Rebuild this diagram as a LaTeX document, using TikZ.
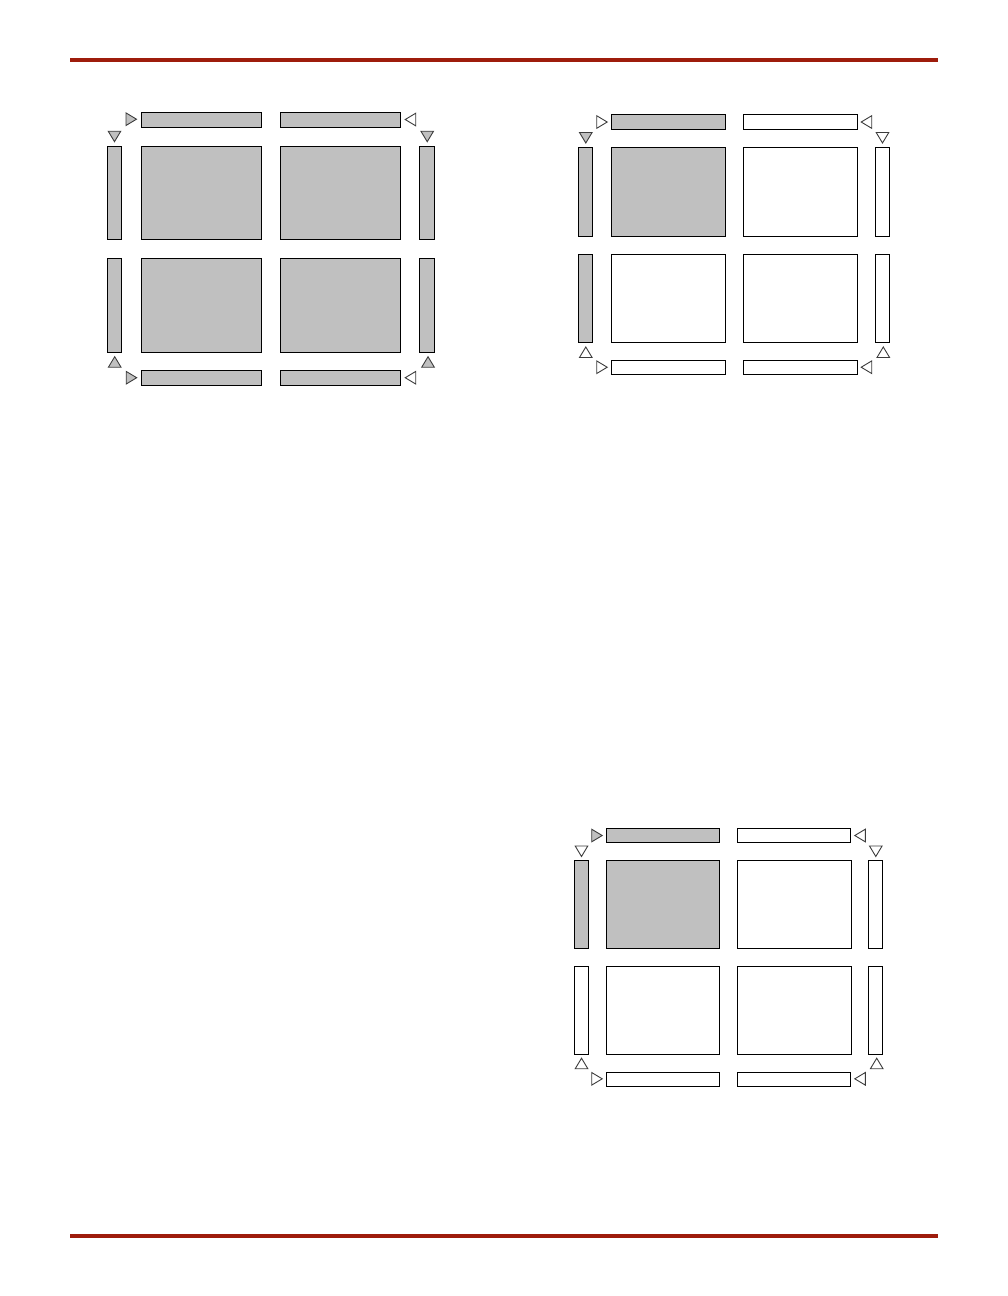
\documentclass[tikz,border=0pt]{standalone}
\definecolor{rulered}{RGB}{158,28,12}
\definecolor{blkgray}{RGB}{192,192,192}
\definecolor{triedge}{RGB}{60,60,60}
\tikzset{
  bx/.style={draw=black, line width=1pt, inner sep=0pt, outer sep=0pt},
  gr/.style={fill=blkgray},
  wh/.style={fill=white},
  trig/.style={draw=triedge, line width=0.9pt, fill=blkgray, line join=miter},
  triw/.style={draw=triedge, line width=0.9pt, fill=white, line join=miter},
  redrule/.style={draw=rulered, line width=3.8pt}
}
% box: name, x1, y1, x2, y2, style
\newcommand\bx[6]{\node[bx,#6,minimum width={#4-#2}, minimum height={#5-#3}] (#1) at ({(#2+#4)/2},{(#3+#5)/2}) {};}
% triangles: center x, center y, style
\newcommand\trR[3]{\draw[#3] ({#1-5},{#2-6.3}) -- ({#1+5.5},{#2}) -- ({#1-5},{#2+6.3}) -- cycle;}
\newcommand\trL[3]{\draw[#3] ({#1+5},{#2-6.3}) -- ({#1-5.5},{#2}) -- ({#1+5},{#2+6.3}) -- cycle;}
\newcommand\trD[3]{\draw[#3] ({#1-6.3},{#2-5}) -- ({#1},{#2+5.5}) -- ({#1+6.3},{#2-5}) -- cycle;}
\newcommand\trU[3]{\draw[#3] ({#1-6.3},{#2+5}) -- ({#1},{#2-5.5}) -- ({#1+6.3},{#2+5}) -- cycle;}
\begin{document}
\begin{tikzpicture}[x=1pt,y=-1pt]
\useasboundingbox (0,0) rectangle (1008,1296);
% rules
\coordinate (r1a) at (70,60.2); \coordinate (r1b) at (938,60.2);
\coordinate (r2a) at (70,1236); \coordinate (r2b) at (938,1236);
\draw[redrule] (r1a) -- (r1b);
\draw[redrule] (r2a) -- (r2b);

% ---------- diagram 1 ----------
\bx{aT1}{141}{112.3}{261.7}{127.3}{gr}
\bx{aT2}{280.3}{112.3}{400.3}{127.3}{gr}
\bx{aB1}{141}{370.3}{261.7}{385.3}{gr}
\bx{aB2}{280.3}{370.3}{400.3}{385.3}{gr}
\bx{aM11}{141}{146.3}{261.7}{239.3}{gr}
\bx{aM12}{280.3}{146.3}{400.3}{239.3}{gr}
\bx{aM21}{141}{258.3}{261.7}{352.3}{gr}
\bx{aM22}{280.3}{258.3}{400.3}{352.3}{gr}
\bx{aL1}{107.3}{146.3}{121.7}{239.3}{gr}
\bx{aL2}{107.3}{258.3}{121.7}{352.3}{gr}
\bx{aR1}{419.3}{146.3}{434.7}{239.3}{gr}
\bx{aR2}{419.3}{258.3}{434.7}{352.3}{gr}
\trR{131}{119.2}{trig}
\trD{114.5}{136.2}{trig}
\trL{410.7}{119.5}{triw}
\trD{427.2}{136.2}{trig}
\trU{114.7}{362.2}{trig}
\trR{131.2}{377.7}{trig}
\trU{428}{362.2}{trig}
\trL{410.7}{377.7}{triw}

% ---------- diagram 2 ----------
\bx{bT1}{611}{114.3}{725.7}{129.3}{gr}
\bx{bT2}{743.3}{114.3}{857.7}{129.3}{wh}
\bx{bB1}{611}{360}{725.7}{374.3}{wh}
\bx{bB2}{743.3}{360}{857.7}{374.3}{wh}
\bx{bM11}{611}{147.3}{725.7}{236.3}{gr}
\bx{bM12}{743.3}{147.3}{857.7}{236.3}{wh}
\bx{bM21}{611}{254.3}{725.7}{342.3}{wh}
\bx{bM22}{743.3}{254.3}{857.7}{342.3}{wh}
\bx{bL1}{578.3}{147.3}{592.3}{236.3}{gr}
\bx{bL2}{578.3}{254.3}{592.3}{342.3}{gr}
\bx{bR1}{875.3}{147.3}{889.3}{236.3}{wh}
\bx{bR2}{875.3}{254.3}{889.3}{342.3}{wh}
\trR{601.7}{122}{triw}
\trD{585.8}{137.5}{trig}
\trL{866.7}{122}{triw}
\trD{882.5}{137.5}{triw}
\trU{585.8}{352.5}{triw}
\trR{601.7}{367.2}{triw}
\trU{883.3}{352.5}{triw}
\trL{866.7}{367.2}{triw}

% ---------- diagram 3 ----------
\bx{cT1}{606}{828.3}{719.3}{842.3}{gr}
\bx{cT2}{737.3}{828.3}{850.3}{842.3}{wh}
\bx{cB1}{606}{1072.3}{719.3}{1086.3}{wh}
\bx{cB2}{737.3}{1072.3}{850.3}{1086.3}{wh}
\bx{cM11}{606}{860.3}{719.3}{948.3}{gr}
\bx{cM12}{737.3}{860.3}{851}{948.3}{wh}
\bx{cM21}{606}{966.3}{719.3}{1054.3}{wh}
\bx{cM22}{737.3}{966.3}{851}{1054.3}{wh}
\bx{cL1}{574.3}{860.3}{588.7}{948.3}{gr}
\bx{cL2}{574.3}{966.3}{588.7}{1054.3}{wh}
\bx{cR1}{868.3}{860.3}{882.3}{948.3}{wh}
\bx{cR2}{868.3}{966.3}{882.3}{1054.3}{wh}
\trR{596.7}{835.5}{trig}
\trD{581.5}{851}{triw}
\trL{860.3}{835.5}{triw}
\trD{875.8}{851}{triw}
\trU{581.5}{1063.7}{triw}
\trR{596.7}{1078.8}{triw}
\trU{876.7}{1063.7}{triw}
\trL{860.3}{1078.8}{triw}
\end{tikzpicture}
\end{document}
